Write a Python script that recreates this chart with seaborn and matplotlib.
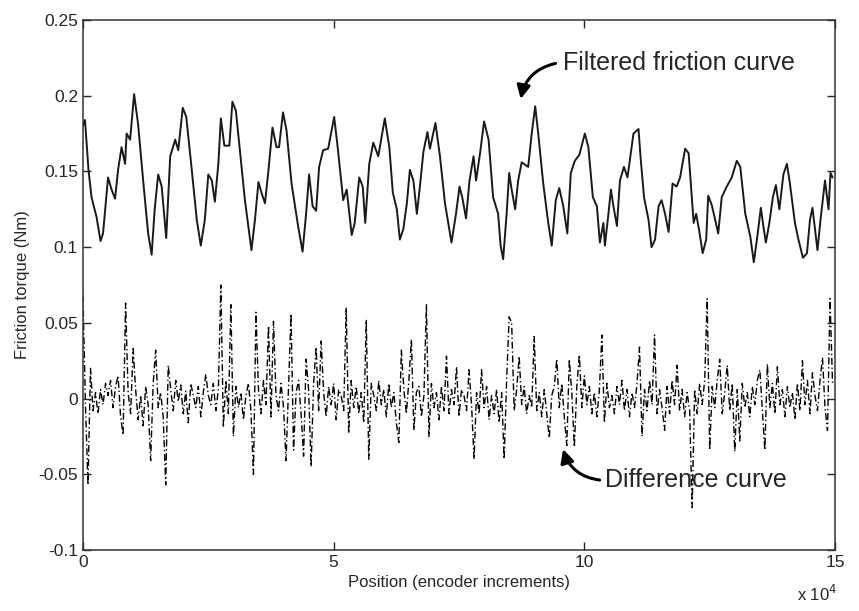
"""
Friction torque vs position: filtered friction curve and difference curve
"""

import numpy as np
import pandas as pd
import matplotlib
matplotlib.use('Agg')
import matplotlib.pyplot as plt
from matplotlib.ticker import FuncFormatter
import seaborn as sns

# filtered friction curve, position in units of 10^4 encoder increments
filt_x = [0.00, 0.04, 0.11, 0.17, 0.27, 0.35, 0.40, 0.50, 0.57, 0.64, 0.70, 0.77, 0.84, 0.87, 0.94,
          1.02, 1.10, 1.20, 1.30, 1.37, 1.43, 1.50, 1.57, 1.66, 1.74, 1.84, 1.90, 1.99, 2.06,
          2.17, 2.27, 2.35, 2.43, 2.50, 2.57, 2.63, 2.70, 2.75, 2.82, 2.92, 2.98, 3.05, 3.13,
          3.23, 3.36, 3.43, 3.50, 3.56, 3.63, 3.70, 3.78, 3.86, 3.91, 3.99, 4.06, 4.16, 4.29,
          4.38, 4.45, 4.51, 4.58, 4.65, 4.71, 4.79, 4.89, 5.01, 5.08, 5.19, 5.26, 5.36, 5.42,
          5.51, 5.58, 5.63, 5.71, 5.79, 5.89, 6.02, 6.11, 6.18, 6.26, 6.32, 6.39, 6.46, 6.52,
          6.59, 6.66, 6.72, 6.79, 6.87, 6.92, 7.03, 7.12, 7.22, 7.35, 7.44, 7.51, 7.57, 7.64,
          7.71, 7.79, 7.84, 7.92, 8.00, 8.09, 8.18, 8.28, 8.33, 8.38, 8.45, 8.50, 8.55, 8.62,
          8.68, 8.75, 8.88, 8.95, 9.02, 9.08, 9.18, 9.28, 9.35, 9.43, 9.50, 9.58, 9.66, 9.73,
          9.81, 9.90, 10.01, 10.08, 10.17, 10.25, 10.31, 10.38, 10.41, 10.48, 10.53, 10.58,
          10.65, 10.71, 10.79, 10.86, 10.98, 11.08, 11.12, 11.19, 11.28, 11.34, 11.41, 11.48,
          11.54, 11.61, 11.68, 11.76, 11.84, 11.91, 12.01, 12.08, 12.18, 12.23, 12.29, 12.36,
          12.43, 12.47, 12.54, 12.61, 12.67, 12.74, 12.84, 12.94, 13.04, 13.11, 13.21, 13.31,
          13.38, 13.45, 13.52, 13.57, 13.62, 13.69, 13.76, 13.82, 13.89, 13.97, 14.04, 14.10,
          14.20, 14.27, 14.36, 14.44, 14.50, 14.55, 14.65, 14.71, 14.80, 14.87, 14.91, 14.95]
filt_y = [0.180, 0.184, 0.151, 0.133, 0.120, 0.104, 0.109, 0.146, 0.138, 0.132, 0.151, 0.166, 0.155, 0.175, 0.171,
          0.201, 0.181, 0.144, 0.109, 0.095, 0.125, 0.148, 0.140, 0.106, 0.160, 0.171, 0.164, 0.192, 0.186,
          0.151, 0.118, 0.101, 0.118, 0.148, 0.144, 0.130, 0.155, 0.185, 0.167, 0.167, 0.196, 0.190, 0.164,
          0.131, 0.098, 0.118, 0.143, 0.136, 0.129, 0.151, 0.179, 0.166, 0.166, 0.189, 0.177, 0.142, 0.114,
          0.097, 0.122, 0.148, 0.127, 0.124, 0.153, 0.164, 0.165, 0.186, 0.166, 0.131, 0.138, 0.108, 0.116,
          0.146, 0.140, 0.116, 0.155, 0.169, 0.160, 0.185, 0.166, 0.136, 0.125, 0.105, 0.112, 0.129, 0.151,
          0.144, 0.122, 0.140, 0.163, 0.176, 0.165, 0.182, 0.160, 0.129, 0.103, 0.122, 0.140, 0.132, 0.119,
          0.144, 0.160, 0.144, 0.162, 0.183, 0.171, 0.133, 0.122, 0.101, 0.092, 0.122, 0.149, 0.138, 0.125,
          0.144, 0.156, 0.153, 0.175, 0.193, 0.175, 0.142, 0.116, 0.101, 0.131, 0.139, 0.127, 0.109, 0.149,
          0.157, 0.161, 0.175, 0.166, 0.133, 0.127, 0.103, 0.116, 0.101, 0.122, 0.138, 0.127,
          0.114, 0.144, 0.153, 0.146, 0.175, 0.178, 0.160, 0.133, 0.118, 0.100, 0.105, 0.127,
          0.131, 0.122, 0.110, 0.142, 0.140, 0.146, 0.165, 0.162, 0.116, 0.122, 0.111, 0.096,
          0.105, 0.134, 0.128, 0.118, 0.109, 0.133, 0.140, 0.146, 0.157, 0.153, 0.122, 0.107,
          0.090, 0.107, 0.126, 0.114, 0.103, 0.116, 0.133, 0.141, 0.125, 0.148, 0.155, 0.142,
          0.116, 0.105, 0.093, 0.096, 0.118, 0.126, 0.098, 0.118, 0.144, 0.125, 0.149, 0.146]

# difference curve, one sample every 0.05 (x 10^4 increments)
diff_step = 0.05
diff_y = [
    0.068, -0.005, -0.057, 0.020, -0.008, 0.004, -0.010, 0.006, -0.004, 0.010, 0.002, 0.012, -0.006, 0.008, 0.015, -0.012, -0.024, 0.063, 0.004, -0.010,
    0.033, 0.006, -0.014, 0.002, -0.018, 0.008, -0.004, -0.041, 0.010, 0.032, -0.006, 0.004, -0.012, -0.057, 0.022, 0.006, -0.008, 0.012, -0.002, 0.009,
    -0.010, 0.005, -0.016, 0.010, 0.002, -0.006, 0.008, -0.012, 0.004, 0.016, 0.002, -0.004, 0.010, -0.008, 0.006, 0.075, -0.019, 0.012, -0.010, 0.062,
    -0.025, 0.008, -0.006, 0.004, -0.014, 0.002, 0.010, -0.008, -0.050, 0.057, 0.006, -0.010, 0.012, -0.004, 0.048, -0.012, 0.051, 0.002, -0.008, 0.010,
    -0.006, -0.041, 0.008, 0.056, -0.034, 0.004, 0.012, -0.010, -0.038, 0.026, 0.006, -0.045, 0.010, 0.034, -0.008, 0.038, 0.004, -0.012, 0.008, -0.004,
    0.010, -0.014, 0.006, 0.002, -0.008, 0.060, -0.023, 0.012, -0.006, 0.008, -0.010, 0.004, -0.016, 0.052, -0.040, 0.010, 0.002, -0.008, 0.012, -0.004,
    0.006, -0.012, 0.010, -0.006, 0.004, -0.016, -0.029, 0.032, 0.006, -0.010, 0.012, 0.039, -0.021, 0.004, 0.008, -0.012, 0.002, 0.062, -0.025, 0.010,
    -0.006, 0.004, -0.014, 0.008, -0.008, 0.028, -0.010, 0.006, -0.004, 0.021, -0.012, 0.006, 0.002, -0.008, 0.019, -0.004, -0.040, 0.004, -0.010, 0.019,
    -0.006, 0.008, -0.014, 0.002, -0.010, 0.006, -0.016, 0.004, -0.040, 0.012, 0.054, 0.050, -0.008, 0.006, 0.028, -0.004, 0.008, -0.010, 0.002, -0.006,
    0.041, -0.008, 0.004, -0.012, 0.006, -0.010, -0.026, 0.002, 0.008, 0.026, -0.006, 0.010, -0.012, -0.031, 0.026, 0.004, -0.032, 0.008, 0.029, -0.006,
    0.015, -0.004, 0.008, -0.010, 0.004, -0.012, 0.006, 0.042, -0.016, 0.010, -0.006, 0.002, -0.010, 0.008, -0.004, 0.012, -0.008, 0.006, -0.012, 0.004,
    -0.006, 0.010, 0.034, -0.025, 0.006, -0.008, 0.012, -0.004, 0.042, -0.010, 0.006, -0.006, -0.021, 0.008, -0.010, 0.012, -0.004, 0.022, -0.008, 0.006,
    -0.012, 0.004, -0.008, -0.072, 0.006, -0.010, 0.010, -0.004, 0.012, 0.066, -0.034, 0.008, -0.006, 0.012, 0.026, -0.010, 0.004, 0.022, -0.008, 0.010,
    -0.035, 0.006, -0.028, 0.010, -0.006, 0.004, -0.012, 0.008, -0.004, 0.012, 0.019, -0.008, -0.034, 0.023, -0.006, 0.010, -0.010, 0.021, -0.004, 0.006,
    -0.012, 0.008, -0.006, 0.004, -0.014, 0.010, -0.008, 0.025, -0.004, 0.012, -0.010, 0.017, 0.002, -0.008, 0.012, 0.027, -0.006, -0.021, 0.066, 0.010,
]
diff_x = np.arange(len(diff_y)) * diff_step

y_ticks = [-0.1, -0.05, 0, 0.05, 0.1, 0.15, 0.2, 0.25]
x_ticks = [0, 5, 10, 15]

sns.set_style('ticks')
plt.rcParams['font.family'] = ['Liberation Sans', 'DejaVu Sans']

filt_df = pd.DataFrame({'pos': filt_x, 'torque': filt_y})
diff_df = pd.DataFrame({'pos': diff_x, 'torque': diff_y})

fig = plt.figure(figsize=(8.59, 6.11), dpi=100)
ax = fig.add_axes([0.0966, 0.0998, 0.8755, 0.8675])

sns.lineplot(data=filt_df, x='pos', y='torque', ax=ax, color='#1a1a1a', linewidth=1.4,
             estimator=None, sort=False)
sns.lineplot(data=diff_df, x='pos', y='torque', ax=ax, color='black', linewidth=1.0,
             estimator=None, sort=False, linestyle=(0, (5, 2, 1, 2)))

ax.set_xlim(0, 15)
ax.set_ylim(-0.1, 0.25)
ax.set_xticks(x_ticks)
ax.set_yticks(y_ticks)
ax.yaxis.set_major_formatter(FuncFormatter(lambda v, p: '%g' % round(v, 3)))
ax.tick_params(direction='in', length=6, width=1, top=True, right=True, labelsize=12.5)
for s in ax.spines.values():
    s.set_visible(True)
    s.set_linewidth(1.1)
    s.set_color('#333333')

ax.set_xlabel('Position (encoder increments)', fontsize=12, labelpad=4)
ax.set_ylabel('Friction torque (Nm)', fontsize=12, labelpad=6)
fig.text(0.928, 0.016, 'x 10$^4$', fontsize=12)

ax.text(9.58, 0.2217, 'Filtered friction curve', fontsize=18, va='center')
ax.annotate('', xy=(8.72, 0.196), xytext=(9.48, 0.2217),
            arrowprops=dict(arrowstyle='-|>,head_length=0.8,head_width=0.4', color='black', lw=2.2,
                            connectionstyle='arc3,rad=0.35'))
ax.text(10.42, -0.054, 'Difference curve', fontsize=18, va='center')
ax.annotate('', xy=(9.56, -0.0316), xytext=(10.36, -0.054),
            arrowprops=dict(arrowstyle='-|>,head_length=0.8,head_width=0.4', color='black', lw=2.2,
                            connectionstyle='arc3,rad=-0.35'))

fig.savefig('out.png', dpi=100)
